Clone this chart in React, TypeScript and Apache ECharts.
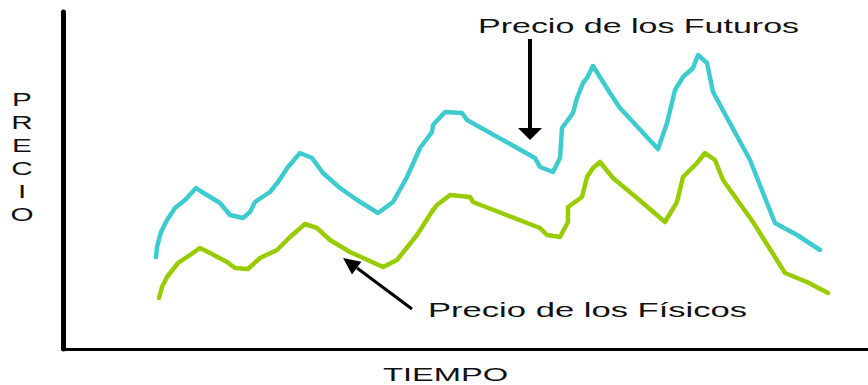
import React, { useEffect, useRef } from "react";
import * as echarts from "echarts";

// Hand-drawn price paths over time (time units along x, price units along y).
const futurosTiempo = [93, 94, 98, 104, 112, 122, 133, 139, 157, 167, 180, 187, 192, 207, 215, 225, 237, 249, 260, 277, 294, 315, 330, 344, 357, 369, 370, 382, 399, 404, 472, 477, 490, 497, 499, 510, 514, 520, 524, 530, 547, 557, 595, 604, 612, 620, 630, 635, 644, 650, 687, 712, 734, 757];
const futurosPrecio = [92, 102, 117, 129, 141, 149, 161, 157, 146, 134, 131, 137, 147, 157, 167, 182, 196, 191, 176, 161, 149, 136, 147, 172, 201, 217, 224, 237, 236, 229, 191, 182, 177, 191, 221, 236, 251, 266, 271, 283, 256, 241, 200, 226, 259, 272, 281, 294, 286, 257, 189, 126, 114, 99];

const fisicosTiempo = [96, 99, 104, 115, 127, 137, 147, 164, 172, 185, 197, 214, 227, 242, 254, 267, 287, 320, 334, 354, 370, 374, 387, 407, 410, 477, 484, 497, 505, 505, 519, 524, 530, 537, 550, 574, 602, 614, 620, 634, 642, 652, 660, 690, 722, 744, 765];
const fisicosPrecio = [51, 62, 72, 86, 94, 101, 96, 87, 81, 80, 91, 99, 112, 125, 121, 109, 97, 82, 89, 114, 139, 144, 154, 152, 147, 121, 114, 112, 127, 142, 152, 172, 181, 187, 171, 151, 127, 147, 172, 186, 196, 189, 169, 127, 76, 67, 56];

const tiempoMax = 805;
const precioMax = 337;

const etiquetaFuturos = "Precio de los Futuros";
const etiquetaFisicos = "Precio de los Físicos";
const ejeX = "TIEMPO";
const ejeY = "PRECIO";

const pares = (xs: number[], ys: number[]) => xs.map((x, i) => [x, ys[i]]);

export default function App() {
  const ref = useRef<HTMLDivElement>(null);

  useEffect(() => {
    if (!ref.current) return;
    const chart = echarts.init(ref.current, null, { renderer: "svg" });
    const font = "Liberation Sans, Arial, sans-serif";

    chart.setOption({
      animation: false,
      backgroundColor: "#ffffff",
      grid: { left: 63, right: 0, top: 12, bottom: 36 },
      xAxis: {
        type: "value",
        min: 0,
        max: tiempoMax,
        axisLine: { show: true, lineStyle: { color: "#000", width: 3 } },
        axisTick: { show: false },
        axisLabel: { show: false },
        splitLine: { show: false },
      },
      yAxis: {
        type: "value",
        min: 0,
        max: precioMax,
        axisLine: { show: true, lineStyle: { color: "#000", width: 5 } },
        axisTick: { show: false },
        axisLabel: { show: false },
        splitLine: { show: false },
      },
      series: [
        {
          name: etiquetaFuturos,
          type: "line",
          data: pares(futurosTiempo, futurosPrecio),
          showSymbol: false,
          lineStyle: { color: "#3ecbd0", width: 4.5, join: "round", cap: "round" },
        },
        {
          name: etiquetaFisicos,
          type: "line",
          data: pares(fisicosTiempo, fisicosPrecio),
          showSymbol: false,
          lineStyle: { color: "#99cc00", width: 4.5, join: "round", cap: "round" },
        },
      ],
      graphic: [
        // vertical axis title, one letter per line
        {
          type: "text",
          x: 22,
          y: 88,
          scaleX: 1.65,
          style: {
            text: ejeY.split("").join("\n"),
            font: `18px ${font}`,
            lineHeight: 23,
            fill: "#111",
            align: "center",
            verticalAlign: "top",
          },
        },
        {
          type: "text",
          x: 383,
          y: 375,
          scaleX: 1.72,
          style: { text: ejeX, font: `19px ${font}`, fill: "#111", align: "left", verticalAlign: "middle" },
        },
        // futures annotation with downward arrow
        {
          type: "text",
          x: 478,
          y: 26,
          scaleX: 1.7,
          style: { text: etiquetaFuturos, font: `20px ${font}`, fill: "#111", align: "left", verticalAlign: "middle" },
        },
        {
          type: "line",
          shape: { x1: 530, y1: 39, x2: 530, y2: 129 },
          style: { stroke: "#000", lineWidth: 4 },
        },
        {
          type: "polygon",
          shape: { points: [[518, 128], [542, 128], [530, 140]] },
          style: { fill: "#000" },
        },
        // physical annotation with diagonal arrow
        {
          type: "text",
          x: 428,
          y: 310,
          scaleX: 1.73,
          style: { text: etiquetaFisicos, font: `20px ${font}`, fill: "#111", align: "left", verticalAlign: "middle" },
        },
        {
          type: "line",
          shape: { x1: 412, y1: 309, x2: 357, y2: 268 },
          style: { stroke: "#000", lineWidth: 3 },
        },
        {
          type: "polygon",
          shape: { points: [[343, 258], [361.4, 261.7], [352, 274.5]] },
          style: { fill: "#000" },
        },
      ],
    });

    return () => chart.dispose();
  }, []);

  return (
    <div
      ref={ref}
      style={{ position: "fixed", left: 0, top: 0, width: 868, height: 385 }}
    />
  );
}
